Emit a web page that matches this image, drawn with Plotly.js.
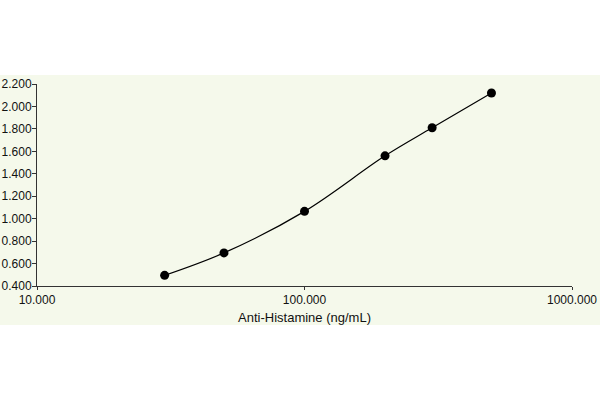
<!DOCTYPE html>
<html>
<head>
<meta charset="utf-8">
<script src="https://cdn.plot.ly/plotly-3.0.1.min.js"></script>
<style>
    html, body { margin: 0; padding: 0; background: #ffffff; width: 600px; height: 400px; overflow: hidden; }
    #chart { position: absolute; left: 0; top: 75px; width: 600px; height: 250px; }
</style>
</head>
<body>
<div id="chart"></div>
<script>
// 标准曲线数据
const concentration = [30, 50, 100, 200, 300, 500];
const absorbance = [0.495, 0.695, 1.065, 1.56, 1.81, 2.12];
const xTickVals = [10, 100, 1000];
const xTickText = ['10.000', '100.000', '1000.000'];
const xTitle = 'Anti-Histamine (ng/mL)';

const bg = '#f5f9eb';
const axisColor = '#333333';

const trace = {
    x: concentration,
    y: absorbance,
    type: 'scatter',
    mode: 'lines+markers',
    line: { color: '#000000', width: 1.2, shape: 'spline', smoothing: 1 },
    marker: { color: '#000000', size: 9 },
    hoverinfo: 'skip'
};

const layout = {
    width: 600,
    height: 250,
    margin: { l: 37, r: 28, t: 9, b: 39 },
    paper_bgcolor: bg,
    plot_bgcolor: bg,
    showlegend: false,
    font: { family: 'Liberation Sans, Arial, sans-serif', size: 12, color: '#111111' },
    xaxis: {
        type: 'log',
        range: [1, 3],
        tickvals: xTickVals,
        ticktext: xTickText,
        showgrid: false,
        zeroline: false,
        showline: true,
        linecolor: axisColor,
        linewidth: 1,
        ticks: 'outside',
        ticklen: 3,
        tickcolor: axisColor,
        tickfont: { size: 12 },
        title: { text: xTitle, font: { size: 13 }, standoff: 6 }
    },
    yaxis: {
        range: [0.4, 2.2],
        dtick: 0.2,
        tick0: 0.4,
        tickformat: '.3f',
        showgrid: false,
        zeroline: false,
        showline: true,
        linecolor: axisColor,
        linewidth: 1,
        ticks: 'outside',
        ticklen: 4,
        tickcolor: axisColor,
        tickfont: { size: 12 },
        ticklabelstandoff: -2
    }
};

Plotly.newPlot('chart', [trace], layout, { displayModeBar: false, staticPlot: true });
</script>
</body>
</html>
